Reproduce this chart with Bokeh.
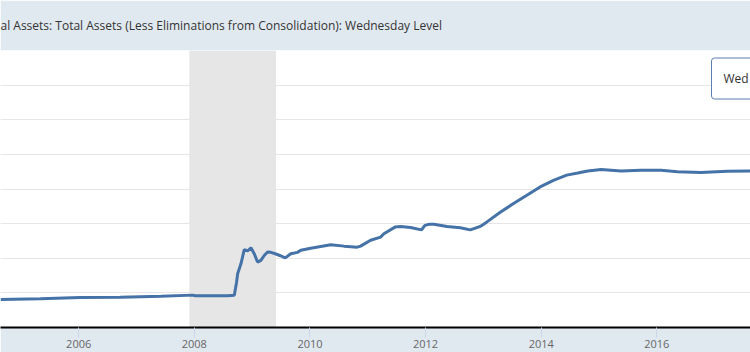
import pandas as pd
from bokeh.plotting import figure
from bokeh.models import (Range1d, SingleIntervalTicker, FixedTicker,
                          DatetimeTickFormatter, BoxAnnotation, Label)
from bokeh.embed import file_html
from bokeh.resources import INLINE

# ---- data (millions of U.S. dollars) ----
dates = [
    "2004-08-25", "2005-05-04", "2006-01-11", "2006-09-20", "2007-06-06",
    "2007-12-19", "2008-01-09", "2008-07-30", "2008-09-10", "2008-09-24",
    "2008-10-01", "2008-10-22", "2008-11-12", "2008-12-03", "2008-12-24",
    "2009-01-14", "2009-02-04", "2009-02-25", "2009-03-18", "2009-04-08",
    "2009-04-29", "2009-05-27", "2009-06-24", "2009-07-29", "2009-09-02",
    "2009-10-14", "2009-11-04", "2010-01-06", "2010-05-12", "2010-08-04",
    "2010-10-27", "2010-11-17", "2011-01-19", "2011-03-23", "2011-04-13",
    "2011-06-22", "2011-07-27", "2011-09-28", "2011-12-07", "2011-12-28",
    "2012-01-25", "2012-02-22", "2012-05-16", "2012-08-08", "2012-10-10",
    "2012-12-12", "2013-01-23", "2013-04-17", "2013-07-10", "2013-10-02",
    "2013-12-25", "2014-03-19", "2014-06-11", "2014-08-20", "2014-10-22",
    "2015-01-14", "2015-05-20", "2015-09-23", "2016-01-27", "2016-05-11",
    "2016-10-05", "2017-03-22", "2017-08-16",
]
values = [
    810000, 830000, 865000, 875000, 900000,
    935000, 915000, 920000, 930000, 1300000,
    1550000, 1840000, 2250000, 2210000, 2300000,
    2130000, 1890000, 1940000, 2080000, 2180000,
    2170000, 2130000, 2080000, 2010000, 2130000,
    2170000, 2230000, 2290000, 2390000, 2350000,
    2320000, 2350000, 2520000, 2610000, 2710000,
    2900000, 2920000, 2890000, 2820000, 2950000,
    2980000, 2980000, 2920000, 2880000, 2820000,
    2920000, 3050000, 3330000, 3580000, 3820000,
    4060000, 4250000, 4400000, 4460000, 4520000,
    4560000, 4520000, 4540000, 4540000, 4500000,
    4480000, 4510000, 4520000,
]
recession_start = "2007-12-01"
recession_end = "2009-06-01"
view_start = "2004-08-25"
view_end = "2017-08-15"
tick_years = [2006, 2008, 2010, 2012, 2014, 2016]
y_max = 8000000
grid_step = 1000000
title_text = "al Assets: Total Assets (Less Eliminations from Consolidation): Wednesday Level"
legend_text = "Wed"


def ms(d):
    return pd.Timestamp(d).value / 1e6


x = pd.to_datetime(dates)

p = figure(width=750, height=352, x_axis_type="datetime",
           output_backend="svg", toolbar_location=None,
           x_range=Range1d(ms(view_start), ms(view_end)),
           y_range=Range1d(0, y_max),
           min_border_left=0, min_border_right=0,
           min_border_top=50, min_border_bottom=25)

p.border_fill_color = "#e1e9f0"
p.background_fill_color = "#ffffff"
p.outline_line_color = None

p.title.text = title_text
p.title.align = "left"
p.title.offset = 0
p.title.standoff = 30
p.title.vertical_align = "top"
p.title.text_font = "Open Sans"
p.title.text_font_size = "12px"
p.title.text_font_style = "normal"
p.title.text_color = "#333333"

p.yaxis.visible = False
p.xgrid.visible = False
p.ygrid.ticker = SingleIntervalTicker(interval=grid_step)
p.ygrid.grid_line_color = "#e6e6e6"
p.ygrid.grid_line_width = 1

ax = p.xaxis[0]
ax.ticker = FixedTicker(ticks=[ms(f"{y}-01-01") for y in tick_years], minor_ticks=[])
ax.formatter = DatetimeTickFormatter(years="%Y", months="%Y", days="%Y",
                                     hours="%Y", minutes="%Y", seconds="%Y")
ax.axis_line_color = "#000000"
ax.axis_line_width = 2
ax.major_tick_line_color = "#ccd6eb"
ax.major_tick_out = 10
ax.major_tick_in = 0
ax.minor_tick_out = 0
ax.minor_tick_in = 0
ax.major_label_standoff = 2
ax.major_label_text_font = "Open Sans"
ax.major_label_text_font_size = "11px"
ax.major_label_text_color = "#666666"

rec = BoxAnnotation(left=ms(recession_start), right=ms(recession_end),
                    fill_color="#e6e6e6", fill_alpha=1.0, line_color=None,
                    level="underlay")
p.add_layout(rec)

p.line(x, values, line_color="#4572a7", line_width=3)

legend = Label(x=711, y=249, x_units="screen", y_units="screen", text=legend_text,
               text_font="Open Sans", text_font_size="12px", text_color="#333333",
               text_baseline="middle", text_align="left",
               background_fill_color="#ffffff", border_line_color="#5b7fb0",
               border_line_width=1, padding=12, border_radius=3)
p.add_layout(legend)

open("out.html", "w").write(file_html(p, INLINE))
